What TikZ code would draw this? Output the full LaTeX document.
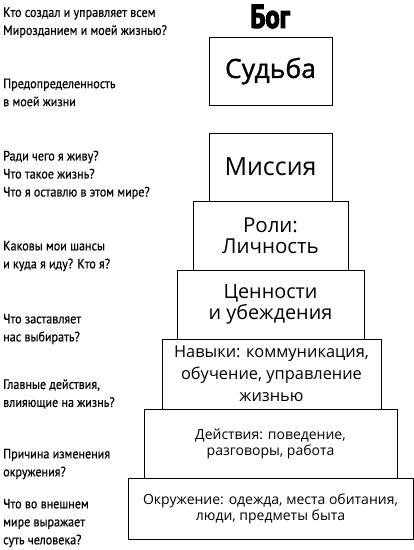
\documentclass[tikz,border=0pt]{standalone}
\usepackage{fontspec}
\setmainfont{Open Sans}
\newfontfamily\condfont[FakeStretch=0.89, FakeBold=0.4]{PT Sans}
\newfontfamily\godfont[FakeStretch=0.8, BoldFeatures={FakeBold=3.5}]{PT Sans}
\newfontfamily\heavyfont[FakeBold=1.2]{Open Sans}
\begin{document}
\begin{tikzpicture}[x=1pt, y=-1pt]
    \tikzstyle{level}=[draw, line width=1pt, inner sep=0pt, align=center]
    \tikzstyle{question}=[anchor=west, inner sep=0pt, align=left, font=\condfont\fontsize{13.6}{18}\selectfont]

    \useasboundingbox (0,0) rectangle (414,550);

    % the steps of the tower
    \node[level, minimum width=123, minimum height=68, font=\heavyfont\fontsize{26.5}{30}\selectfont] (sudba) at (270.5,71) {Судьба};
    \node[level, minimum width=123, minimum height=68, font=\fontsize{25}{30}\selectfont] (missia) at (270.5,167) {Миссия};
    \node[level, minimum width=155, minimum height=69, font=\fontsize{20.5}{21}\selectfont] (roli) at (270.5,235.5) {Роли:\\Личность};
    \node[level, minimum width=187, minimum height=69, font=\fontsize{19.8}{21}\selectfont] (cennosti) at (270.5,304.5) {Ценности\\и убеждения};
    \node[level, minimum width=219, minimum height=70, font=\fontsize{16.4}{22}\selectfont] (navyki) at (271.5,374) {Навыки: коммуникация,\\обучение, управление\\жизнью};
    \node[level, minimum width=253, minimum height=69, font=\fontsize{14}{16}\selectfont] (deistvia) at (270.5,443.5) {Действия: поведение,\\разговоры, работа};
    \node[level, minimum width=285, minimum height=61, font=\fontsize{14}{16}\selectfont] (okruzhenie) at (270.5,508.5) {Окружение: одежда, места обитания,\\люди, предметы быта};

    \node[font=\godfont\bfseries\fontsize{33}{33}\selectfont, inner sep=0pt] (bog) at (270,16.5) {Бог};

    % questions on the left
    \node[question] (q1) at (3,22.5) {Кто создал и управляет всем\\Мирозданием и моей жизнью?};
    \node[question] (q2) at (3,92.5) {Предопределенность\\в моей жизни};
    \node[question] (q3) at (3,175) {Ради чего я живу?\\Что такое жизнь?\\Что я оставлю в этом мире?};
    \node[question] (q4) at (3,256) {Каковы мои шансы\\и куда я иду? Кто я?};
    \node[question] (q5) at (3,329) {Что заставляет\\нас выбирать?};
    \node[question] (q6) at (3,394) {Главные действия,\\влияющие на жизнь?};
    \node[question] (q7) at (3,464) {Причина изменения\\окружения?};
    \node[question] (q8) at (3,523) {Что во внешнем\\мире выражает\\суть человека?};
\end{tikzpicture}
\end{document}
